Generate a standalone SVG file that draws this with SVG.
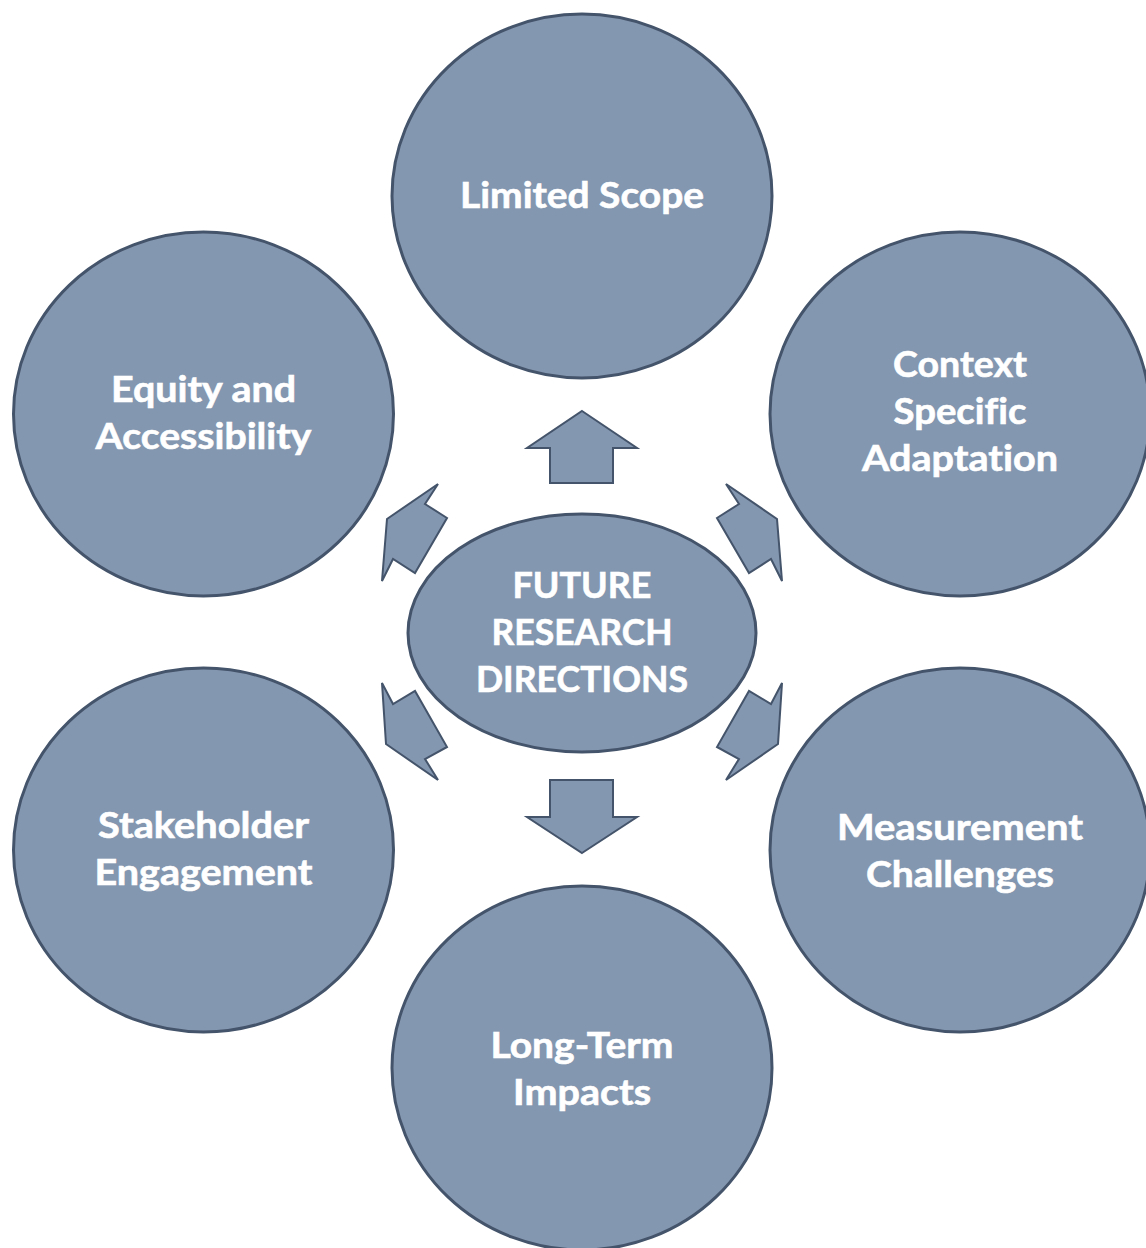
<svg xmlns="http://www.w3.org/2000/svg" width="1146" height="1248" viewBox="0 0 1146 1248">
  <style>
    .node { fill: #8497B0; stroke: #44546A; stroke-width: 3; }
    .arrow { fill: #8497B0; stroke: #44546A; stroke-width: 2; stroke-linejoin: miter; }
    .label { font-family: Lato, "Open Sans", "Liberation Sans", sans-serif; font-weight: bold; font-size: 36px; fill: #FFFFFF; stroke: #FFFFFF; stroke-width: 0.6; text-anchor: middle; font-variant-ligatures: none; font-feature-settings: "liga" 0, "dlig" 0; }
  </style>
  <rect width="1146" height="1248" fill="#FFFFFF"/>

  <!-- arrows radiating from the hub -->
  <g id="connectors">
    <polygon class="arrow" points="582,411 637,448 613,448 613,483 550,483 550,448 527,448"/>
    <polygon class="arrow" points="582,853 637,817 613,817 613,780 550,780 550,817 527,817"/>
    <polygon class="arrow" points="438,484 425,504 447,518 415,573 393,559 382,581 387,519"/>
    <polygon class="arrow" points="726,484 739,504 717,518 749,573 771,559 782,581 777,519"/>
    <polygon class="arrow" points="382,683 393,704 415,691 447,747 425,759 438,780 386,744"/>
    <polygon class="arrow" points="782,683 771,704 749,691 717,747 739,759 726,780 778,744"/>
  </g>

  <g id="hub">
    <ellipse class="node" cx="582" cy="633" rx="174" ry="119"/>
    <text class="label"><tspan x="582" y="598" textLength="139" lengthAdjust="spacingAndGlyphs">FUTURE</tspan><tspan x="582" y="645" textLength="181" lengthAdjust="spacingAndGlyphs">RESEARCH</tspan><tspan x="582" y="692" textLength="212" lengthAdjust="spacingAndGlyphs">DIRECTIONS</tspan></text>
  </g>

  <g id="limited-scope">
    <ellipse class="node" cx="582" cy="196" rx="190" ry="182"/>
    <text class="label" x="582" y="208" textLength="244" lengthAdjust="spacingAndGlyphs">Limited Scope</text>
  </g>

  <g id="context-specific-adaptation">
    <ellipse class="node" cx="960" cy="414" rx="190" ry="182"/>
    <text class="label"><tspan x="960" y="377" textLength="134" lengthAdjust="spacingAndGlyphs">Context</tspan><tspan x="960" y="424" textLength="133" lengthAdjust="spacingAndGlyphs">Specific</tspan><tspan x="960" y="471" textLength="196" lengthAdjust="spacingAndGlyphs">Adaptation</tspan></text>
  </g>

  <g id="measurement-challenges">
    <ellipse class="node" cx="960" cy="850" rx="190" ry="182"/>
    <text class="label"><tspan x="960" y="840" textLength="246" lengthAdjust="spacingAndGlyphs">Measurement</tspan><tspan x="960" y="887" textLength="188" lengthAdjust="spacingAndGlyphs">Challenges</tspan></text>
  </g>

  <g id="long-term-impacts">
    <ellipse class="node" cx="582" cy="1068" rx="190" ry="182"/>
    <text class="label"><tspan x="582" y="1058" textLength="183" lengthAdjust="spacingAndGlyphs">Long-Term</tspan><tspan x="582" y="1105" textLength="138" lengthAdjust="spacingAndGlyphs">Impacts</tspan></text>
  </g>

  <g id="stakeholder-engagement">
    <ellipse class="node" cx="203.5" cy="850" rx="190" ry="182"/>
    <text class="label"><tspan x="203.5" y="838" textLength="211" lengthAdjust="spacingAndGlyphs">Stakeholder</tspan><tspan x="203.5" y="885" textLength="218" lengthAdjust="spacingAndGlyphs">Engagement</tspan></text>
  </g>

  <g id="equity-accessibility">
    <ellipse class="node" cx="203.5" cy="414" rx="190" ry="182"/>
    <text class="label"><tspan x="203.5" y="402" textLength="185" lengthAdjust="spacingAndGlyphs">Equity and</tspan><tspan x="203.5" y="449" textLength="216" lengthAdjust="spacingAndGlyphs">Accessibility</tspan></text>
  </g>
</svg>
